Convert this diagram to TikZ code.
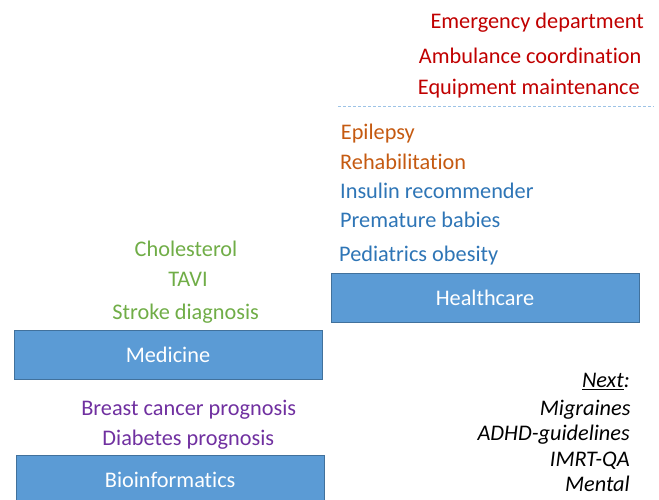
\documentclass[tikz,border=0pt]{standalone}
\usepackage{fontspec}
\setmainfont[Ligatures=NoCommon]{Carlito}
\definecolor{boxfill}{HTML}{5B9BD5}
\definecolor{boxline}{HTML}{41719C}
\definecolor{medgreen}{HTML}{70AD47}
\definecolor{bioviolet}{HTML}{7030A0}
\definecolor{careblue}{HTML}{2E75B6}
\definecolor{careorange}{HTML}{C55A11}
\definecolor{carered}{HTML}{C00000}
\definecolor{seplight}{HTML}{9DC3E6}
\tikzset{
  area/.style={draw=boxline, fill=boxfill, text=white, inner sep=0pt,
    font=\fontsize{22.3}{26}\selectfont},
  item/.style={inner sep=0pt, font=\fontsize{22.3}{26}\selectfont},
  nextitem/.style={item, anchor=base east, font=\fontsize{22.3}{26}\selectfont\itshape}
}
\begin{document}
\begin{tikzpicture}[x=1pt,y=-1pt]
  \useasboundingbox (0,0) rectangle (659,500);
  % areas
  \node (health) [area, minimum width=308.6pt, minimum height=48.4pt] at (485,297.5) {Healthcare};
  \node (medicine) [area, minimum width=307.4pt, minimum height=49.3pt] at (168,354.7) {Medicine};
  \node (bioinf) [area, minimum width=308.3pt, minimum height=50pt] at (170.2,480) {Bioinformatics};
  % medicine
  \draw
    (186,256.7) node (chol) [item, anchor=base, text=medgreen] {Cholesterol}
    (188,286.7) node (tavi) [item, anchor=base, text=medgreen] {TAVI}
    (185.7,319) node (stroke) [item, anchor=base, text=medgreen] {Stroke diagnosis};
  % bioinformatics
  \draw
    (188.7,415) node (breast) [item, anchor=base, text=bioviolet] {Breast cancer prognosis}
    (188.3,445) node (diab) [item, anchor=base, text=bioviolet] {Diabetes prognosis};
  % healthcare
  \draw
    (644,28.3) node (emerg) [item, anchor=base east, text=carered] {Emergency department}
    (641.7,63.3) node (amb) [item, anchor=base east, text=carered] {Ambulance coordination}
    (640,94.3) node (equip) [item, anchor=base east, text=carered] {Equipment maintenance}
    (340.7,140) node (epi) [item, anchor=base west, text=careorange] {Epilepsy}
    (340,169.3) node (rehab) [item, anchor=base west, text=careorange] {Rehabilitation}
    (340,198.3) node (insulin) [item, anchor=base west, text=careblue] {Insulin recommender}
    (340,227.7) node (prem) [item, anchor=base west, text=careblue] {Premature babies}
    (339,261) node (pedi) [item, anchor=base west, text=careblue] {Pediatrics obesity};
  \coordinate (sepL) at (338,106.7);
  \coordinate (sepR) at (654,106.7);
  \draw[seplight, line width=1pt, dash pattern=on 3pt off 2pt] (sepL) -- (sepR);
  % next
  \draw
    (630,387.3) node (next) [nextitem] {\underline{Next}:}
    (630.7,415) node (migr) [nextitem] {Migraines}
    (630,440) node (adhd) [nextitem] {ADHD-guidelines}
    (630,466) node (imrt) [nextitem] {IMRT-QA}
    (630,491.7) node (mental) [nextitem] {Mental};
\end{tikzpicture}
\end{document}
